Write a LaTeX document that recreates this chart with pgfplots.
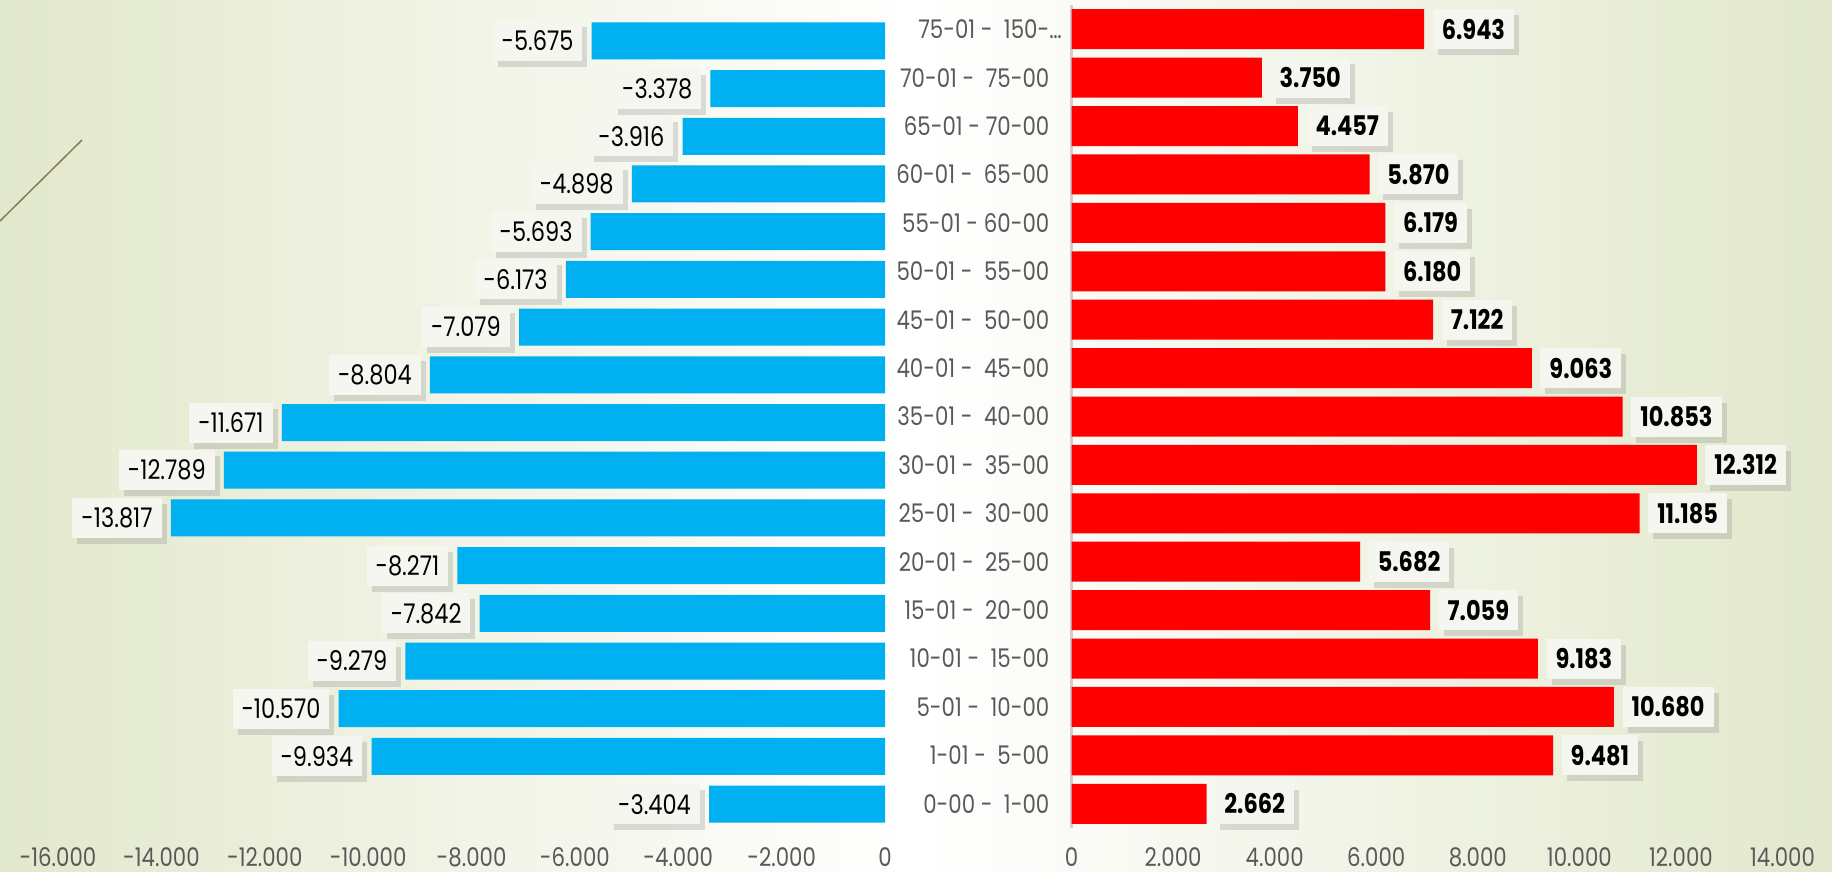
\documentclass[border=0pt]{standalone}
\usepackage{pgfplots}
\pgfplotsset{compat=1.18}
\usepackage{fontspec}
\setmainfont{Poppins}[FakeStretch=0.83]
\usetikzlibrary{shadows}

\definecolor{blueBar}{HTML}{00B0F0}
\definecolor{redBar}{HTML}{FF0000}
\definecolor{labGray}{HTML}{595959}
\definecolor{bgGreen}{HTML}{E2E8CC}
\definecolor{boxFill}{HTML}{F6F6F1}
\definecolor{lineGray}{HTML}{D0D0D0}
\definecolor{olive}{HTML}{8A7B52}

\newcommand\tickfont{\fontsize{7.3}{8}\selectfont}
\newcommand\valfont{\fontsize{7.7}{8}\selectfont}

\pgfkeys{/pgf/number format/.cd, fixed, precision=0, 1000 sep={.}, assume math mode=true}

\tikzset{
  valbox/.style={fill=boxFill, text=black, inner xsep=0.9mm, inner ysep=0pt,
    minimum height=4mm, drop shadow={shadow xshift=0.5mm, shadow yshift=-0.6mm, opacity=0.25}},
}

\pgfplotsset{
  pyr/.style={
    scale only axis,
    anchor=south west,
    xbar,
    ymin=-0.5, ymax=16.5,
    major tick length=0pt,
    scaled x ticks=false,
    point meta=x,
    nodes near coords,
    xticklabel style={font=\tickfont, text=labGray, inner sep=0pt, yshift=-1.9mm},
  },
}

\begin{document}
\begin{tikzpicture}
\shade[left color=bgGreen, right color=bgGreen, middle color=white] (0,0) rectangle (183.2mm,87.1mm);
\useasboundingbox (0,0) rectangle (183.2mm,87.1mm);
\draw[olive, line width=0.15mm] (0,65.0mm) -- (8.2mm,73.1mm);

% women / left side
\begin{axis}[pyr,
  at={(5.8mm,4.3mm)},
  width=82.7mm, height=81.1mm,
  bar width=3.7mm,
  xmin=-16000, xmax=0,
  xtick={-16000,-14000,...,0},
  ytick=\empty,
  axis line style={draw=none},
  nodes near coords style={valbox, anchor=east, xshift=-0.85mm, font=\valfont},
]
\addplot[fill=blueBar, draw=none] coordinates {
  (-3404,0) (-9934,1) (-10570,2) (-9279,3) (-7842,4) (-8271,5)
  (-13817,6) (-12789,7) (-11671,8) (-8804,9) (-7079,10) (-6173,11)
  (-5693,12) (-4898,13) (-3916,14) (-3378,15) (-5675,16)
};
\end{axis}

% right side
\begin{axis}[pyr,
  at={(107.15mm,4.3mm)},
  width=71.1mm, height=82.3mm,
  bar width=4.0mm,
  xmin=0, xmax=14000,
  xtick={0,2000,...,14000},
  ytick={0,...,16},
  yticklabels={0-00 -\ \ 1-00, 1-01 -\ \ 5-00, 5-01 -\ \ 10-00, 10-01 -\ \ 15-00,
    15-01 -\ \ 20-00, 20-01 -\ \ 25-00, 25-01 -\ \ 30-00, 30-01 -\ \ 35-00,
    35-01 -\ \ 40-00, 40-01 -\ \ 45-00, 45-01 -\ \ 50-00, 50-01 -\ \ 55-00,
    55-01 - 60-00, 60-01 -\ \ 65-00, 65-01 - 70-00, 70-01 -\ \ 75-00,
    75-01 -\ \ 150-\rlap{…}},
  yticklabel style={font=\tickfont, text=labGray, anchor=east, inner sep=0pt, xshift=-2.15mm},
  axis x line*=bottom, axis y line*=left,
  x axis line style={draw=none},
  y axis line style={draw=lineGray, line width=0.25mm},
  nodes near coords style={valbox, anchor=west, xshift=0.8mm, font=\valfont\bfseries},
]
\addplot[fill=redBar, draw=none] coordinates {
  (2662,0) (9481,1) (10680,2) (9183,3) (7059,4) (5682,5)
  (11185,6) (12312,7) (10853,8) (9063,9) (7122,10) (6180,11)
  (6179,12) (5870,13) (4457,14) (3750,15) (6943,16)
};
\end{axis}
\end{tikzpicture}
\end{document}
